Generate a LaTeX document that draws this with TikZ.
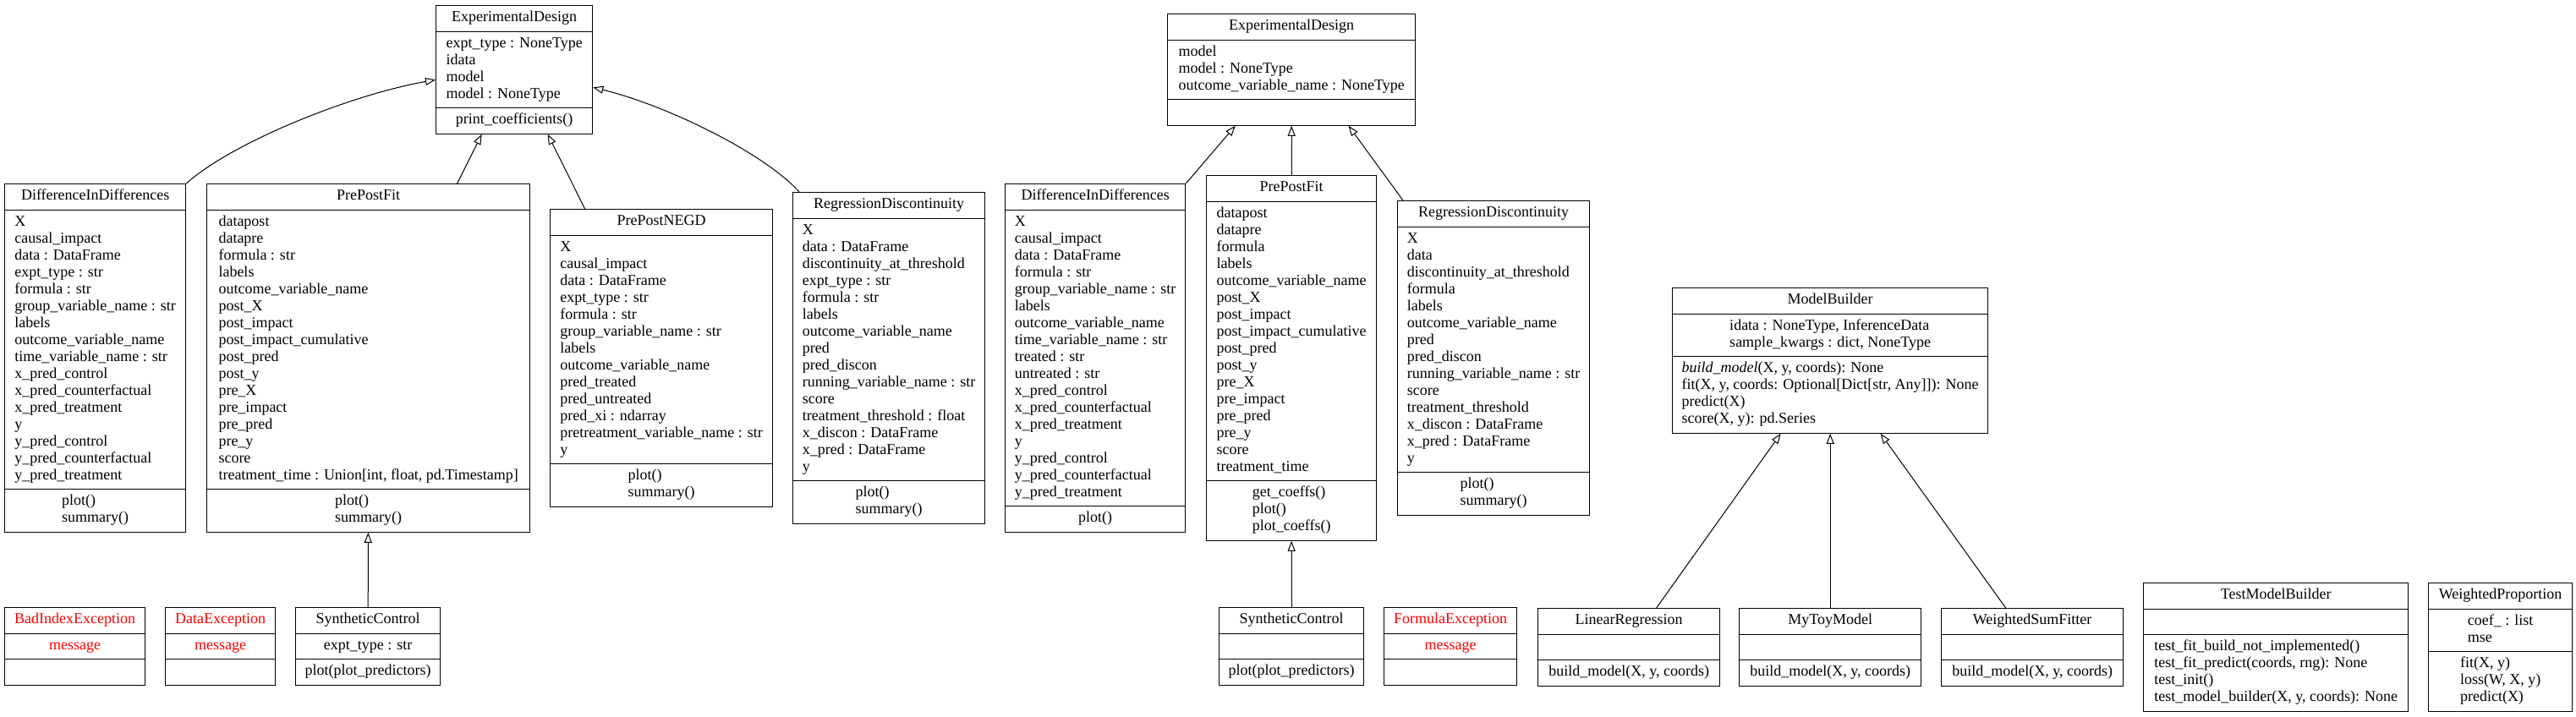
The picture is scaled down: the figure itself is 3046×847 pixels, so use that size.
\documentclass[tikz,border=0pt]{standalone}
\usepackage{fontspec}
\setmainfont{Liberation Serif}
\usetikzlibrary{calc}
\usetikzlibrary{shapes.multipart}
\usetikzlibrary{arrows.meta}
\newcommand{\members}[1]{\begin{tabular}{@{}l@{}}\relax#1\end{tabular}}

\begin{document}
\begin{tikzpicture}[x=0.5pt,y=-0.5pt
    ,umlclass/.style={draw,line width=0.65pt,rectangle split,rectangle split parts=3
      ,inner xsep=5pt,inner ysep=2.3pt,anchor=north west
      ,font=\fontsize{9}{10}\selectfont}
    ,boxw/.style={minimum width=#1*0.5pt}
    ,extends/.style={line width=0.5pt,-{Triangle[open,length=6pt,width=4.5pt]}}
    ]
  \useasboundingbox (0,0) rectangle (3046,847);

  \node[umlclass,boxw=185] (ed1) at (515,6) {\members{ExperimentalDesign}
    \nodepart{two}\members{expt\_type : NoneType\\idata\\model\\model : NoneType}
    \nodepart{three}\members{print\_coefficients()}};
  \node[umlclass,boxw=214] (did1) at (5,217) {\members{DifferenceInDifferences}
    \nodepart{two}\members{X\\causal\_impact\\data : DataFrame\\expt\_type : str\\formula : str\\group\_variable\_name : str\\labels\\outcome\_variable\_name\\time\_variable\_name : str\\x\_pred\_control\\x\_pred\_counterfactual\\x\_pred\_treatment\\y\\y\_pred\_control\\y\_pred\_counterfactual\\y\_pred\_treatment}
    \nodepart{three}\members{plot()\\summary()}};
  \node[umlclass,boxw=382] (ppf1) at (244,217) {\members{PrePostFit}
    \nodepart{two}\members{datapost\\datapre\\formula : str\\labels\\outcome\_variable\_name\\post\_X\\post\_impact\\post\_impact\_cumulative\\post\_pred\\post\_y\\pre\_X\\pre\_impact\\pre\_pred\\pre\_y\\score\\treatment\_time : Union[int, float, pd.Timestamp]}
    \nodepart{three}\members{plot()\\summary()}};
  \node[umlclass,boxw=263] (ppnegd) at (650,247) {\members{PrePostNEGD}
    \nodepart{two}\members{X\\causal\_impact\\data : DataFrame\\expt\_type : str\\formula : str\\group\_variable\_name : str\\labels\\outcome\_variable\_name\\pred\_treated\\pred\_untreated\\pred\_xi : ndarray\\pretreatment\_variable\_name : str\\y}
    \nodepart{three}\members{plot()\\summary()}};
  \node[umlclass,boxw=227] (rd1) at (937,227) {\members{RegressionDiscontinuity}
    \nodepart{two}\members{X\\data : DataFrame\\discontinuity\_at\_threshold\\expt\_type : str\\formula : str\\labels\\outcome\_variable\_name\\pred\\pred\_discon\\running\_variable\_name : str\\score\\treatment\_threshold : float\\x\_discon : DataFrame\\x\_pred : DataFrame\\y}
    \nodepart{three}\members{plot()\\summary()}};
  \node[umlclass,boxw=166] (badidx) at (5,718) {\members{\color{red}BadIndexException}
    \nodepart{two}\members{\color{red}message}
    \nodepart{three}\members{}};
  \node[umlclass,boxw=130] (dataexc) at (195,718) {\members{\color{red}DataException}
    \nodepart{two}\members{\color{red}message}
    \nodepart{three}\members{}};
  \node[umlclass,boxw=171] (sc1) at (349,718) {\members{SyntheticControl}
    \nodepart{two}\members{expt\_type : str}
    \nodepart{three}\members{plot(plot\_predictors)}};

  \node[umlclass,boxw=293] (ed2) at (1380,16) {\members{ExperimentalDesign}
    \nodepart{two}\members{model\\model : NoneType\\outcome\_variable\_name : NoneType}
    \nodepart{three}\members{}};
  \node[umlclass,boxw=213] (did2) at (1188,217) {\members{DifferenceInDifferences}
    \nodepart{two}\members{X\\causal\_impact\\data : DataFrame\\formula : str\\group\_variable\_name : str\\labels\\outcome\_variable\_name\\time\_variable\_name : str\\treated : str\\untreated : str\\x\_pred\_control\\x\_pred\_counterfactual\\x\_pred\_treatment\\y\\y\_pred\_control\\y\_pred\_counterfactual\\y\_pred\_treatment}
    \nodepart{three}\members{plot()}};
  \node[umlclass,boxw=201] (ppf2) at (1426,207) {\members{PrePostFit}
    \nodepart{two}\members{datapost\\datapre\\formula\\labels\\outcome\_variable\_name\\post\_X\\post\_impact\\post\_impact\_cumulative\\post\_pred\\post\_y\\pre\_X\\pre\_impact\\pre\_pred\\pre\_y\\score\\treatment\_time}
    \nodepart{three}\members{get\_coeffs()\\plot()\\plot\_coeffs()}};
  \node[umlclass,boxw=227] (rd2) at (1652,237) {\members{RegressionDiscontinuity}
    \nodepart{two}\members{X\\data\\discontinuity\_at\_threshold\\formula\\labels\\outcome\_variable\_name\\pred\\pred\_discon\\running\_variable\_name : str\\score\\treatment\_threshold\\x\_discon : DataFrame\\x\_pred : DataFrame\\y}
    \nodepart{three}\members{plot()\\summary()}};
  \node[umlclass,boxw=171] (sc2) at (1441,718) {\members{SyntheticControl}
    \nodepart{two}\members{}
    \nodepart{three}\members{plot(plot\_predictors)}};
  \node[umlclass,boxw=157] (formexc) at (1636,718) {\members{\color{red}FormulaException}
    \nodepart{two}\members{\color{red}message}
    \nodepart{three}\members{}};

  \node[umlclass,boxw=373] (mb) at (1977,340) {\members{ModelBuilder}
    \nodepart{two}\members{idata : NoneType, InferenceData\\sample\_kwargs : dict, NoneType}
    \nodepart{three}\members{\textit{build\_model}(X, y, coords): None\\fit(X, y, coords: Optional[Dict[str, Any]]): None\\predict(X)\\score(X, y): pd.Series}};
  \node[umlclass,boxw=215] (linreg) at (1818,719) {\members{LinearRegression}
    \nodepart{two}\members{}
    \nodepart{three}\members{build\_model(X, y, coords)}};
  \node[umlclass,boxw=215] (mytoy) at (2056,719) {\members{MyToyModel}
    \nodepart{two}\members{}
    \nodepart{three}\members{build\_model(X, y, coords)}};
  \node[umlclass,boxw=215] (wsf) at (2295,719) {\members{WeightedSumFitter}
    \nodepart{two}\members{}
    \nodepart{three}\members{build\_model(X, y, coords)}};
  \node[umlclass,boxw=313] (tmb) at (2534,689) {\members{TestModelBuilder}
    \nodepart{two}\members{}
    \nodepart{three}\members{test\_fit\_build\_not\_implemented()\\test\_fit\_predict(coords, rng): None\\test\_init()\\test\_model\_builder(X, y, coords): None}};
  \node[umlclass,boxw=170] (wp) at (2871,689) {\members{WeightedProportion}
    \nodepart{two}\members{coef\_ : list\\mse}
    \nodepart{three}\members{fit(X, y)\\loss(W, X, y)\\predict(X)}};

  \draw[extends] (did1.north east) .. controls (275,168) and (415,112) .. ($(ed1.west)+(0,12)$);
  \path[extends] ($(ppf1.north)+(105,0)$) edge ($(ed1.south)+(-38.5,0)$);
  \path[extends] ($(ppnegd.north)+(-90.5,0)$) edge ($(ed1.south)+(39.5,0)$);
  \draw[extends] ($(rd1.north west)+(8,0)$) .. controls (905,182) and (790,125) .. ($(ed1.east)+(0,21)$);
  \path[extends] (sc1) edge (ppf1);

  \path[extends] (did2.north east) edge ($(ed2.south)+(-66.5,0)$);
  \path[extends] (ppf2) edge (ed2);
  \path[extends] ($(rd2.north west)+(7,0)$) edge ($(ed2.south)+(67.5,0)$);
  \path[extends] (sc2) edge (ppf2);

  \path[extends] ($(linreg.north)+(32.5,0)$) edge ($(mb.south)+(-58.5,0)$);
  \path[extends] (mytoy) edge (mb);
  \path[extends] ($(wsf.north)+(-31.5,0)$) edge ($(mb.south)+(59.5,0)$);
\end{tikzpicture}
\end{document}
